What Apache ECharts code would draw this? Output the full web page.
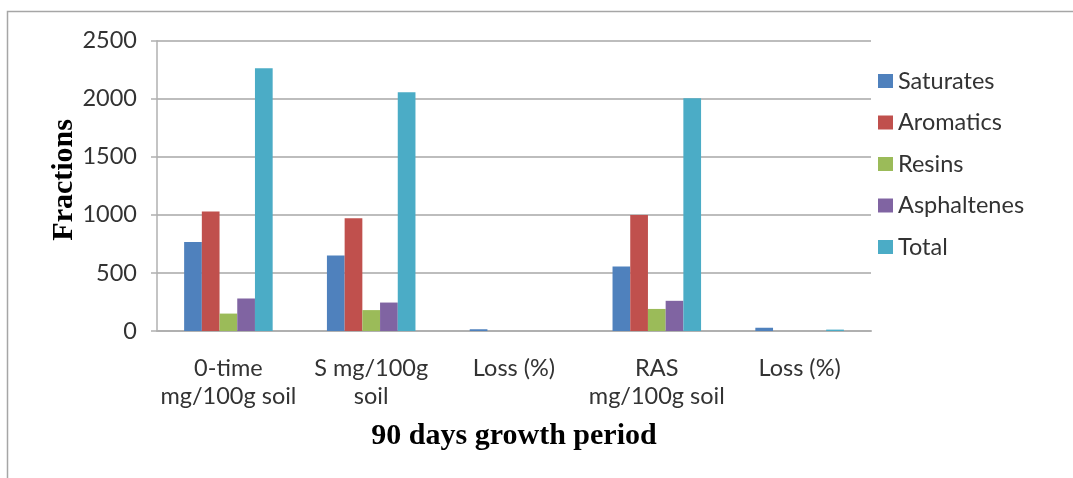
<!DOCTYPE html>
<html>
<head>
<meta charset="utf-8">
<script src="https://cdn.jsdelivr.net/npm/echarts@6/dist/echarts.min.js"></script>
<style>
html,body{margin:0;padding:0;background:#fff;}
#chart{width:1073px;height:478px;}
</style>
</head>
<body>
<div id="chart"></div>
<script>
const categories = ['0-time\nmg/100g soil', 'S mg/100g\nsoil', 'Loss (%)', 'RAS\nmg/100g soil', 'Loss (%)'];
const saturates   = [767, 650, 15, 555, 28];
const aromatics   = [1030, 970, 0, 1000, 0];
const resins      = [150, 180, 0, 190, 0];
const asphaltenes = [280, 245, 0, 260, 0];
const total       = [2262, 2055, 0, 2005, 12];
const yTicks = { min: 0, max: 2500, interval: 500 };

const seriesDefs = [
  { name: 'Saturates', data: saturates, color: '#4F81BD' },
  { name: 'Aromatics', data: aromatics, color: '#C0504D' },
  { name: 'Resins', data: resins, color: '#9BBB59' },
  { name: 'Asphaltenes', data: asphaltenes, color: '#8064A2' },
  { name: 'Total', data: total, color: '#4BACC6' }
];

const chart = echarts.init(document.getElementById('chart'), null, { renderer: 'canvas' });
const labelFont = 'Lato';
chart.setOption({
  animation: false,
  backgroundColor: '#ffffff',
  graphic: [{
    type: 'rect',
    shape: { x: 7.5, y: 11.5, width: 1100, height: 500 },
    style: { fill: 'none', stroke: '#a6a6a6', lineWidth: 1.5 },
    silent: true
  }],
  grid: { left: 157, right: 202, top: 40.7, bottom: 147, containLabel: false },
  legend: {
    orient: 'vertical',
    left: 873,
    top: 64,
    itemWidth: 15,
    itemHeight: 14,
    itemGap: 17.5,
    icon: 'rect',
    textStyle: { fontFamily: labelFont, fontSize: 23.5, color: '#333333' },
    data: seriesDefs.map(s => s.name)
  },
  xAxis: {
    type: 'category',
    data: categories,
    name: '90 days growth period',
    nameLocation: 'middle',
    nameGap: 90,
    nameMoveOverlap: false,
    nameTextStyle: { fontFamily: 'Liberation Serif', fontWeight: 'bold', fontSize: 30, color: '#000' },
    axisLine: { lineStyle: { color: '#b0b0b0', width: 2 } },
    axisTick: { show: false },
    axisLabel: { fontFamily: labelFont, fontSize: 23.5, color: '#333333', margin: 23, lineHeight: 28, interval: 0 }
  },
  yAxis: {
    type: 'value',
    min: yTicks.min, max: yTicks.max, interval: yTicks.interval,
    name: 'Fractions',
    nameLocation: 'middle',
    nameGap: 78,
    nameRotate: 90,
    nameMoveOverlap: false,
    nameTextStyle: { fontFamily: 'Liberation Serif', fontWeight: 'bold', fontSize: 30, color: '#000', padding: [0, 0, 0, 12] },
    axisLine: { show: true, lineStyle: { color: '#b0b0b0', width: 1.5 } },
    axisTick: { show: true, length: 6, lineStyle: { color: '#b0b0b0', width: 1.5 } },
    splitLine: { lineStyle: { color: '#bdbdbd', width: 2 } },
    axisLabel: { fontFamily: labelFont, fontSize: 23.5, color: '#333333', margin: 20, formatter: v => String(v) }
  },
  series: seriesDefs.map(s => ({
    name: s.name,
    type: 'bar',
    data: s.data,
    barGap: '0%',
    barCategoryGap: '38%',
    itemStyle: { color: s.color }
  }))
});
</script>
</body>
</html>
